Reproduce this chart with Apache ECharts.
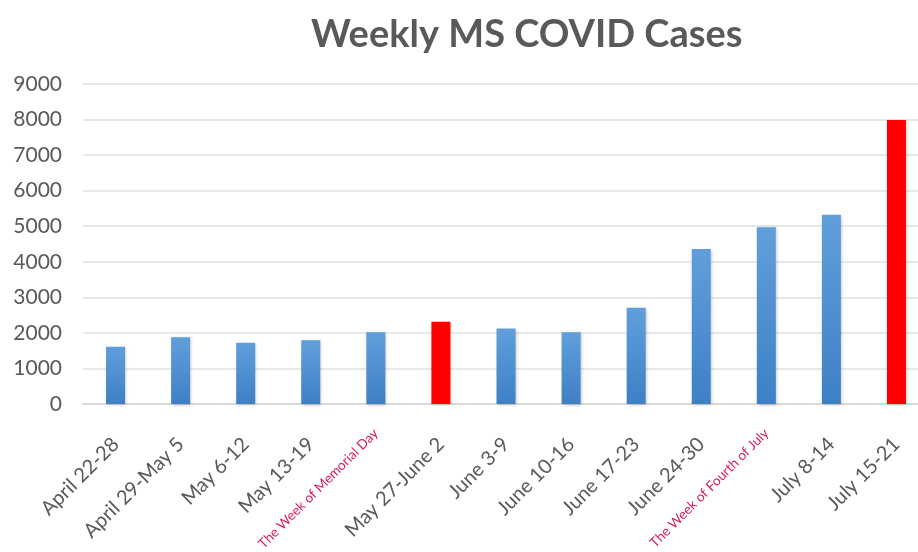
<!DOCTYPE html>
<html>
<head>
<meta charset="utf-8">
<script src="https://cdn.jsdelivr.net/npm/echarts@6/dist/echarts.min.js"></script>
<style>html,body{margin:0;padding:0;background:#fff;}#c{width:918px;height:552px;}</style>
</head>
<body>
<div id="c"></div>
<script>
const categories = ["April 22-28","April 29-May 5","May 6-12","May 13-19","The Week of Memorial Day","May 27-June 2","June 3-9","June 10-16","June 17-23","June 24-30","The Week of Fourth of July","July 8-14","July 15-21"];
const cases = [1610,1880,1720,1790,2020,2310,2120,2020,2710,4360,4970,5320,7990];
const highlighted = [5,12];
const specialLabels = [4,10];
const yTicks = [0,1000,2000,3000,4000,5000,6000,7000,8000,9000];

const chart = echarts.init(document.getElementById('c'));
const blue = new echarts.graphic.LinearGradient(0,0,0,1,[{offset:0,color:'#619fdb'},{offset:1,color:'#3e80c6'}]);
chart.setOption({
  animation:false,
  title:{text:'Weekly MS COVID Cases',left:306,top:11,textStyle:{fontFamily:'Lato',fontWeight:'bold',fontSize:38,color:'#595959'}},
  grid:{left:83,width:846,top:84,bottom:148,containLabel:false,outerBoundsMode:'none'},
  xAxis:[
    {type:'category',data:categories,position:'bottom',
      axisLine:{lineStyle:{color:'#d9d9d9',width:2}},axisTick:{show:false},
      axisLabel:{rotate:45,interval:0,margin:37,fontFamily:'Lato',fontSize:20,color:'#595959',
        formatter:(v,i)=> specialLabels.includes(i) ? '' : v}},
    {type:'category',data:categories,position:'bottom',offset:0,
      axisLine:{show:false},axisTick:{show:false},splitLine:{show:false},
      axisLabel:{rotate:45,interval:0,margin:27,fontFamily:'Lato',fontSize:13.5,color:'#d81b5c',
        formatter:(v,i)=> specialLabels.includes(i) ? v : ''}}
  ],
  yAxis:{type:'value',min:yTicks[0],max:yTicks[yTicks.length-1],interval:1000,
    axisLine:{show:false},axisTick:{show:false},
    splitLine:{lineStyle:{color:'#e0e0e0',width:1.5}},
    axisLabel:{margin:21,fontFamily:'Lato',fontSize:21,color:'#595959',formatter:v=>String(v)}},
  series:[{type:'bar',barWidth:19,xAxisIndex:0,
    data:cases.map((v,i)=>({value:v,itemStyle:{color:highlighted.includes(i)?'#ff0000':blue}})),
    itemStyle:{shadowColor:'rgba(0,0,0,0.25)',shadowBlur:3,shadowOffsetX:1,shadowOffsetY:1}}]
});
</script>
</body>
</html>
